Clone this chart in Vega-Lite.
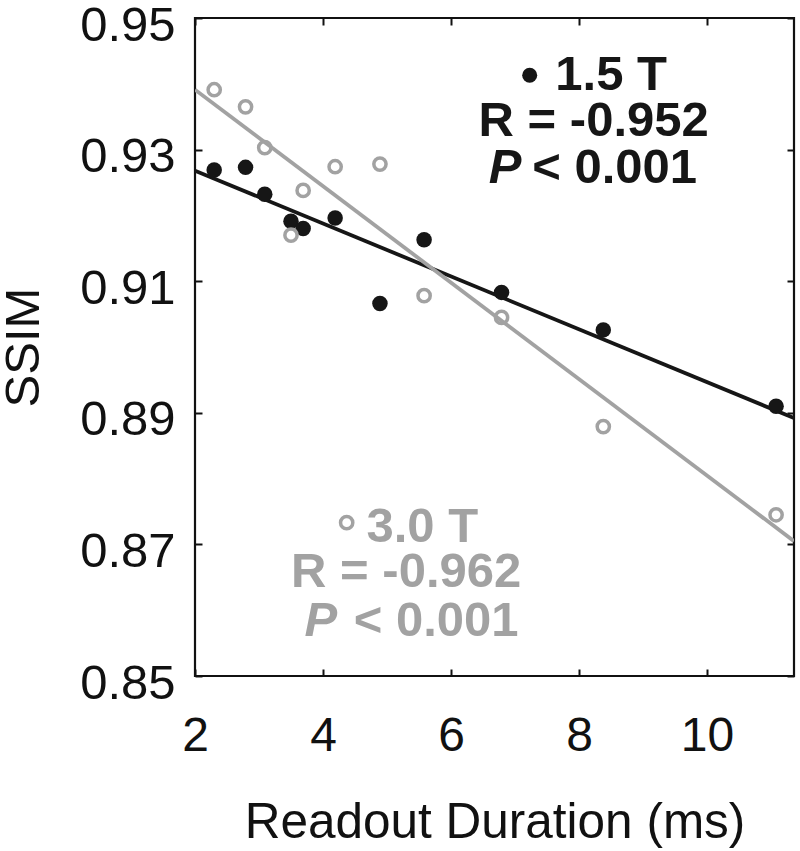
{
  "$schema": "https://vega.github.io/schema/vega-lite/v6.json",
  "width": 599,
  "height": 658,
  "autosize": {"type": "none"},
  "padding": {"left": 195, "top": 18, "right": 6, "bottom": 175},
  "background": "white",
  "config": {
    "view": {"stroke": "#111111", "strokeWidth": 2.2},
    "font": "Liberation Sans",
    "axis": {"grid": false, "domain": false, "tickColor": "#111111", "tickWidth": 2, "labelFont": "Liberation Sans", "titleFont": "Liberation Sans", "labelFlush": false}
  },
  "datasets": {
    "scatter": [
      {"field": "1.5 T", "readout": 2.30, "ssim": 0.9269},
      {"field": "1.5 T", "readout": 2.79, "ssim": 0.9273},
      {"field": "1.5 T", "readout": 3.09, "ssim": 0.9232},
      {"field": "1.5 T", "readout": 3.50, "ssim": 0.9191},
      {"field": "1.5 T", "readout": 3.69, "ssim": 0.9180},
      {"field": "1.5 T", "readout": 4.19, "ssim": 0.9196},
      {"field": "1.5 T", "readout": 4.89, "ssim": 0.9066},
      {"field": "1.5 T", "readout": 5.58, "ssim": 0.9163},
      {"field": "1.5 T", "readout": 6.79, "ssim": 0.9083},
      {"field": "1.5 T", "readout": 8.38, "ssim": 0.9026},
      {"field": "1.5 T", "readout": 11.08, "ssim": 0.8910},
      {"field": "3.0 T", "readout": 2.30, "ssim": 0.9391},
      {"field": "3.0 T", "readout": 2.79, "ssim": 0.9365},
      {"field": "3.0 T", "readout": 3.09, "ssim": 0.9303},
      {"field": "3.0 T", "readout": 3.50, "ssim": 0.9170},
      {"field": "3.0 T", "readout": 3.69, "ssim": 0.9238},
      {"field": "3.0 T", "readout": 4.19, "ssim": 0.9274},
      {"field": "3.0 T", "readout": 4.89, "ssim": 0.9278},
      {"field": "3.0 T", "readout": 5.58, "ssim": 0.9078},
      {"field": "3.0 T", "readout": 6.79, "ssim": 0.9045},
      {"field": "3.0 T", "readout": 8.38, "ssim": 0.8879},
      {"field": "3.0 T", "readout": 11.08, "ssim": 0.8745}
    ],
    "fits": [
      {"field": "1.5 T", "readout": 2.0, "ssim": 0.9268},
      {"field": "1.5 T", "readout": 11.36, "ssim": 0.8892},
      {"field": "3.0 T", "readout": 2.0, "ssim": 0.9391},
      {"field": "3.0 T", "readout": 11.36, "ssim": 0.8705}
    ]
  },
  "resolve": {"axis": {"x": "independent", "y": "independent"}},
  "layer": [
    {
      "data": {"name": "fits"},
      "mark": {"type": "line", "strokeWidth": 3.8, "clip": true},
      "encoding": {
        "x": {"field": "readout", "type": "quantitative", "scale": {"domain": [2, 11.36], "nice": false, "zero": false}, "axis": null},
        "y": {"field": "ssim", "type": "quantitative", "scale": {"domain": [0.85, 0.95], "nice": false, "zero": false}, "axis": null},
        "color": {"field": "field", "type": "nominal", "scale": {"domain": ["1.5 T", "3.0 T"], "range": ["#161616", "#a2a2a2"]}, "legend": null},
        "detail": {"field": "field"}
      }
    },
    {
      "data": {"name": "scatter"},
      "transform": [{"filter": "datum.field === '1.5 T'"}],
      "mark": {"type": "point", "filled": true, "shape": "circle", "size": 240, "color": "#161616", "opacity": 1},
      "encoding": {
        "x": {"field": "readout", "type": "quantitative", "scale": {"domain": [2, 11.36], "nice": false, "zero": false},
          "axis": {"orient": "bottom", "values": [2, 4, 6, 8, 10], "tickSize": -7, "labelPadding": 43, "labelFontSize": 48, "labelColor": "#111111", "title": "Readout Duration (ms)", "titleFontSize": 49.5, "titleFontWeight": "normal", "titleColor": "#111111", "titlePadding": 38}},
        "y": {"field": "ssim", "type": "quantitative", "scale": {"domain": [0.85, 0.95], "nice": false, "zero": false},
          "axis": {"orient": "left", "values": [0.85, 0.87, 0.89, 0.91, 0.93, 0.95], "format": ".2f", "tickSize": -7, "labelPadding": 27, "labelOffset": 7, "labelFontSize": 49, "labelColor": "#111111", "title": "SSIM", "titleFontSize": 49, "titleFontWeight": "normal", "titleColor": "#111111", "titlePadding": 31}}
      }
    },
    {
      "data": {"name": "scatter"},
      "transform": [{"filter": "datum.field === '3.0 T'"}],
      "mark": {"type": "point", "filled": false, "shape": "circle", "size": 150, "stroke": "#a2a2a2", "strokeWidth": 3.5, "fill": "white", "fillOpacity": 0, "opacity": 1},
      "encoding": {
        "x": {"field": "readout", "type": "quantitative", "scale": {"domain": [2, 11.36], "nice": false, "zero": false},
          "axis": {"orient": "top", "values": [2, 4, 6, 8, 10], "tickSize": -7, "labels": false, "title": null}},
        "y": {"field": "ssim", "type": "quantitative", "scale": {"domain": [0.85, 0.95], "nice": false, "zero": false},
          "axis": {"orient": "right", "values": [0.85, 0.87, 0.89, 0.91, 0.93, 0.95], "tickSize": -7, "labels": false, "title": null}}
      }
    },
    {
      "data": {"values": [{}]},
      "mark": {"type": "point", "filled": true, "shape": "circle", "size": 225, "color": "#161616", "opacity": 1},
      "encoding": {"x": {"datum": 7.23, "type": "quantitative", "axis": null}, "y": {"datum": 0.9413, "type": "quantitative", "axis": null}}
    },
    {
      "data": {"values": [{}]},
      "mark": {"type": "text", "text": "1.5 T", "align": "left", "baseline": "alphabetic", "fontSize": 49, "fontWeight": "bold", "color": "#161616"},
      "encoding": {"x": {"datum": 7.63, "type": "quantitative", "axis": null}, "y": {"datum": 0.93906, "type": "quantitative", "axis": null}}
    },
    {
      "data": {"values": [{}]},
      "mark": {"type": "text", "text": "R = -0.952", "align": "center", "baseline": "alphabetic", "fontSize": 49, "fontWeight": "bold", "color": "#161616"},
      "encoding": {"x": {"datum": 8.23, "type": "quantitative", "axis": null}, "y": {"datum": 0.93207, "type": "quantitative", "axis": null}}
    },
    {
      "data": {"values": [{}]},
      "mark": {"type": "text", "text": "P", "align": "right", "baseline": "alphabetic", "fontSize": 49, "fontWeight": "bold", "fontStyle": "italic", "color": "#161616"},
      "encoding": {"x": {"datum": 7.10, "type": "quantitative", "axis": null}, "y": {"datum": 0.92492, "type": "quantitative", "axis": null}}
    },
    {
      "data": {"values": [{}]},
      "mark": {"type": "text", "text": "< 0.001", "align": "left", "baseline": "alphabetic", "fontSize": 49, "fontWeight": "bold", "color": "#161616"},
      "encoding": {"x": {"datum": 7.27, "type": "quantitative", "axis": null}, "y": {"datum": 0.92492, "type": "quantitative", "axis": null}}
    },
    {
      "data": {"values": [{}]},
      "mark": {"type": "point", "filled": false, "shape": "circle", "size": 150, "stroke": "#a2a2a2", "strokeWidth": 3.5, "opacity": 1},
      "encoding": {"x": {"datum": 4.37, "type": "quantitative", "axis": null}, "y": {"datum": 0.8733, "type": "quantitative", "axis": null}}
    },
    {
      "data": {"values": [{}]},
      "mark": {"type": "text", "text": "3.0 T", "align": "left", "baseline": "alphabetic", "fontSize": 49, "fontWeight": "bold", "color": "#a2a2a2"},
      "encoding": {"x": {"datum": 4.68, "type": "quantitative", "axis": null}, "y": {"datum": 0.8704, "type": "quantitative", "axis": null}}
    },
    {
      "data": {"values": [{}]},
      "mark": {"type": "text", "text": "R = -0.962", "align": "center", "baseline": "alphabetic", "fontSize": 49, "fontWeight": "bold", "color": "#a2a2a2"},
      "encoding": {"x": {"datum": 5.30, "type": "quantitative", "axis": null}, "y": {"datum": 0.8636, "type": "quantitative", "axis": null}}
    },
    {
      "data": {"values": [{}]},
      "mark": {"type": "text", "text": "P", "align": "right", "baseline": "alphabetic", "fontSize": 49, "fontWeight": "bold", "fontStyle": "italic", "color": "#a2a2a2"},
      "encoding": {"x": {"datum": 4.22, "type": "quantitative", "axis": null}, "y": {"datum": 0.8561, "type": "quantitative", "axis": null}}
    },
    {
      "data": {"values": [{}]},
      "mark": {"type": "text", "text": "< 0.001", "align": "left", "baseline": "alphabetic", "fontSize": 49, "fontWeight": "bold", "color": "#a2a2a2"},
      "encoding": {"x": {"datum": 4.48, "type": "quantitative", "axis": null}, "y": {"datum": 0.8561, "type": "quantitative", "axis": null}}
    }
  ]
}
